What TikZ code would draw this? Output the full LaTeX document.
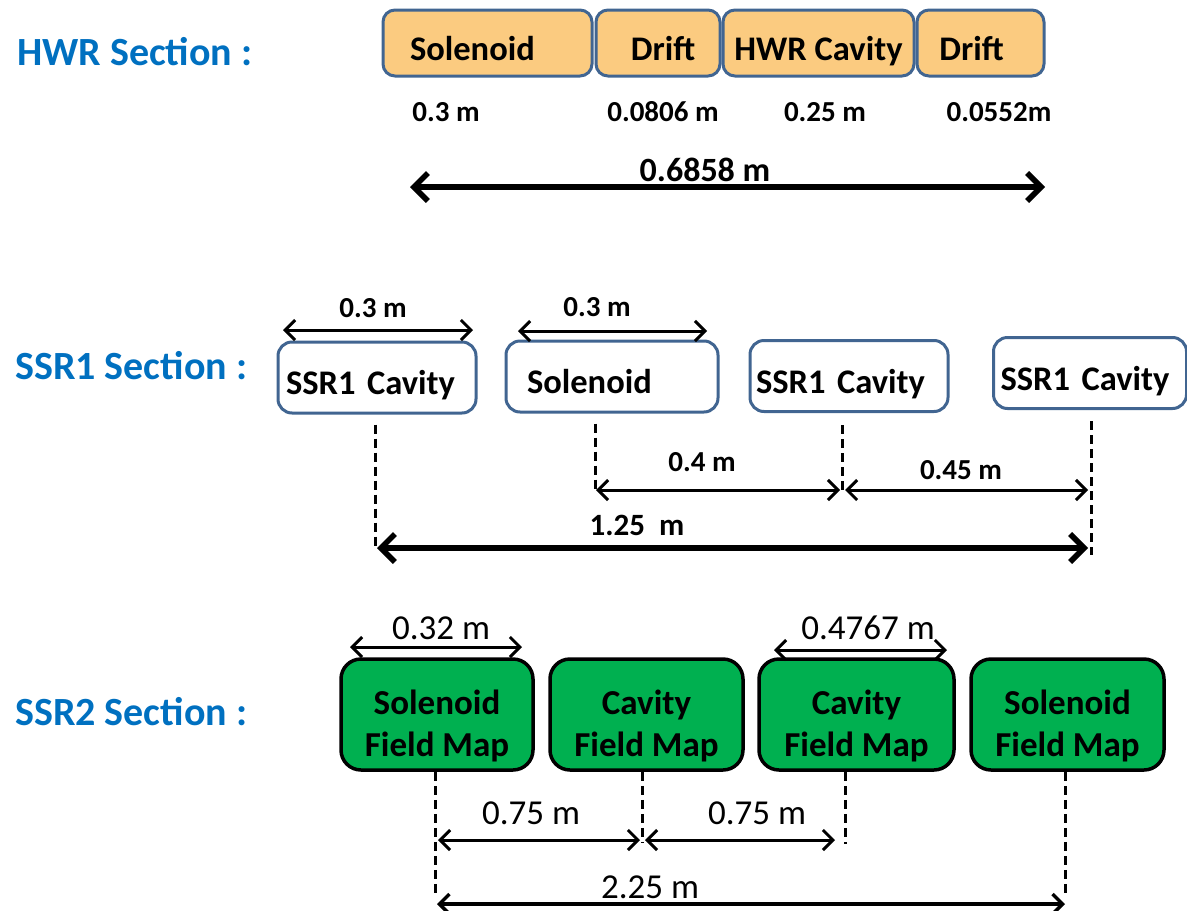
\documentclass[tikz,border=0pt]{standalone}
\usepackage{fontspec}
\setmainfont{Carlito}
\usetikzlibrary{arrows.meta}
\definecolor{titleblue}{RGB}{0,112,192}
\definecolor{boxedge}{RGB}{65,101,145}
\definecolor{hwrfill}{RGB}{251,203,128}
\definecolor{mapgreen}{RGB}{0,176,80}
\tikzset{
  title/.style={text=titleblue,anchor=west,inner sep=0,font=\fontsize{40}{42}\selectfont\bfseries},
  hwrbox/.style={draw=boxedge,fill=hwrfill,line width=3pt,rounded corners=12pt,minimum height=66pt,inner sep=0,text height=36pt,text depth=2pt,font=\fontsize{34.5}{36}\selectfont\bfseries},
  ssrbox/.style={draw=boxedge,fill=white,line width=3pt,rounded corners=14pt,minimum height=71pt,inner ysep=0,inner xsep=8pt,align=left,text height=36pt,text depth=2pt,font=\fontsize{34.5}{36}\selectfont\bfseries},
  mapbox/.style={draw=black,fill=mapgreen,line width=3.5pt,rounded corners=20pt,minimum height=111pt,inner sep=0,align=center,text height=85pt,text depth=2pt,font=\fontsize{35}{42}\selectfont\bfseries},
  dim/.style={inner sep=0,font=\fontsize{29}{30}\selectfont\bfseries},
  bigdim/.style={inner sep=0,font=\fontsize{34}{35}\selectfont\bfseries},
  mapdim/.style={inner sep=0,font=\fontsize{35}{36}\selectfont},
  thinarr/.style={line width=3pt,{Straight Barb[length=10pt,width=20pt]}-{Straight Barb[length=10pt,width=20pt]}},
  thickarr/.style={line width=5.5pt,{Straight Barb[length=14pt,width=28pt]}-{Straight Barb[length=14pt,width=28pt]}},
  dashline/.style={line width=3pt,dash pattern=on 9pt off 5pt},
}
\begin{document}
\begin{tikzpicture}[x=1pt,y=-1pt]
\useasboundingbox (0,0) rectangle (1187,911);

\node[title] (hwr) at (17,52) {HWR Section :};
\node[hwrbox,text width=155pt,inner xsep=27pt,align=left] (hsol) at (487.5,43) {Solenoid};
\node[hwrbox,minimum width=124pt] (hdr1) at (658,43) {\hspace*{10pt}Drift};
\node[hwrbox,minimum width=191pt] (hcav) at (818.5,43) {HWR Cavity};
\node[hwrbox,minimum width=127pt] (hdr2) at (980.5,43) {Drift\hspace*{18pt}};
\node[dim] (hl1) at (446,112) {0.3 m};
\node[dim] (hl2) at (663,112) {0.0806 m};
\node[dim] (hl3) at (825,112) {0.25 m};
\node[dim] (hl4) at (999,112) {0.0552m};
\coordinate (ha) at (410,187);
\coordinate (hb) at (1045,187);
\draw[thickarr] (ha) -- (hb);
\node[bigdim] (htot) at (705,170) {0.6858 m};

\node[title] (ssr1) at (15,366) {SSR1 Section :};
\node[ssrbox,text width=182pt] (s1) at (377,377.5) {SSR1 Cavity};
\node[ssrbox,text width=170pt,inner xsep=21pt] (s2) at (612,376.5) {Solenoid};
\node[ssrbox,text width=186pt,inner xsep=6pt] (s3) at (849,376) {SSR1 Cavity};
\node[ssrbox,text width=179pt,inner xsep=7pt] (s4) at (1090,373) {SSR1 Cavity};
\coordinate (s1a) at (283,330);
\coordinate (s1b) at (473,330);
\draw[thinarr] (s1a) -- (s1b);
\node[dim] (sl1) at (373,308) {0.3 m};
\coordinate (s2a) at (518,331);
\coordinate (s2b) at (707,331);
\draw[thinarr] (s2a) -- (s2b);
\node[dim] (sl2) at (597,307) {0.3 m};
\coordinate (s1d) at (375,550);
\coordinate (s2d) at (595,490);
\coordinate (s3d) at (842,490);
\coordinate (s4d) at (1091,555);
\draw[dashline] (s1d |- s1.south) ++(0,10) -- (s1d);
\draw[dashline] (s2d |- s2.south) ++(0,10) -- (s2d);
\draw[dashline] (s3d |- s3.south) ++(0,12) -- (s3d);
\draw[dashline] (s4d |- s4.south) ++(0,11) -- (s4d);
\draw[thinarr,shorten <=1pt,shorten >=2pt] (s2d) -- (s3d);
\node[dim] (sl3) at (702,462) {0.4 m};
\draw[thinarr,shorten <=3pt,shorten >=3pt] (s3d) -- (s4d |- s3d);
\node[dim] (sl4) at (961,470) {0.45 m};
\draw[thickarr,shorten <=2pt,shorten >=3pt] (s1d |- 0,548) -- (s4d |- 0,548);
\node[dim,font=\fontsize{31}{32}\selectfont\bfseries] (stot) at (637,525) {1.25~~m};

\node[title] (ssr2) at (15,712) {SSR2 Section :};
\node[mapbox,minimum width=192pt] (m1) at (437,714.5) {Solenoid\\Field Map};
\node[mapbox,minimum width=193pt] (m2) at (646.5,714.5) {Cavity\\Field Map};
\node[mapbox,minimum width=195pt] (m3) at (856.5,714.5) {Cavity\\Field Map};
\node[mapbox,minimum width=193pt] (m4) at (1067.5,714.5) {Solenoid\\Field Map};
\coordinate (m1a) at (350,647);
\coordinate (m1b) at (522,647);
\draw[thinarr] (m1a) -- (m1b);
\node[mapdim] (ml1) at (441,628) {0.32 m};
\coordinate (m3a) at (774,650);
\coordinate (m3b) at (947,650);
\draw[thinarr] (m3a) -- (m3b);
\node[mapdim] (ml2) at (868,628) {0.4767 m};
\coordinate (m1d) at (435,897);
\coordinate (m2d) at (642,842);
\coordinate (m3d) at (845,844);
\coordinate (m4d) at (1065,897);
\draw[dashline] (m1d |- m1.south) -- (m1d);
\draw[dashline] (m2d |- m2.south) -- (m2d);
\draw[dashline] (m3d |- m3.south) -- (m3d);
\draw[dashline] (m4d |- m4.south) -- (m4d);
\draw[thinarr,shorten <=3pt,shorten >=2pt] (m1d |- 0,840) -- (m2d |- 0,840);
\node[mapdim] (ml3) at (531,813) {0.75 m};
\draw[thinarr,shorten <=3pt,shorten >=10pt] (m2d |- 0,840) -- (m3d |- 0,840);
\node[mapdim] (ml4) at (757,813) {0.75 m};
\draw[thinarr,line width=3.5pt,shorten <=2pt] (m1d |- 0,904) -- (m4d |- 0,904);
\node[mapdim] (mtot) at (650,887) {2.25 m};
\end{tikzpicture}
\end{document}
